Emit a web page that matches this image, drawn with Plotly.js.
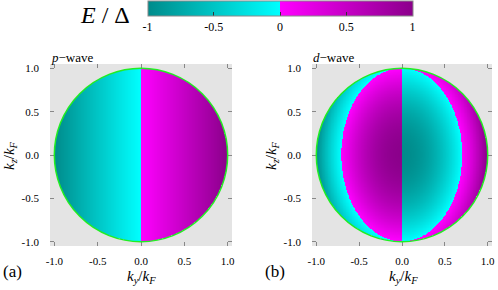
<!DOCTYPE html>
<html><head><meta charset="utf-8">
<script src="https://cdn.plot.ly/plotly-3.0.1.min.js"></script>
<style>html,body{margin:0;padding:0;background:#fff}#c{width:498px;height:290px}</style>
</head><body><div id="c"></div>
<script>
// --- data ---
const kF = 1.0;                       // Fermi-sphere radius (units of kF)
const nGrid = 421;
const kRange = [-1.05, 1.05];
const tickVals = [-1, -0.5, 0, 0.5, 1];
const axisTickText = ['-1.0', '-0.5', '0.0', '0.5', '1.0'];
const cbTickText = ['-1', '-0.5', '0', '0.5', '1'];
const panelNames = ['<i>p</i>\u2212wave', '<i>d</i>\u2212wave'];
const panelTags = ['(a)', '(b)'];
// gap models: p-wave E/Δ = ky ; d-wave E/Δ = -sgn(ky)(kx²-ky²), kx²=1-ky²-kz²
const kyGrid = [], kzGrid = [];
for (let i = 0; i < nGrid; i++) {
  const v = kRange[0] + (kRange[1] - kRange[0]) * i / (nGrid - 1);
  kyGrid.push(v); kzGrid.push(v);
}
function pWave(ky, kz) { return ky; }
function dWave(ky, kz) { const kx2 = 1 - ky*ky - kz*kz; return -Math.sign(ky) * (kx2 - ky*ky); }
function field(f) {
  return kzGrid.map(kz => kyGrid.map(ky => (ky*ky + kz*kz <= kF*kF) ? f(ky, kz) : null));
}
const zP = field(pWave);
const zD = field(dWave);

// --- styling ---
const W = 498, H = 290;
const serif = 'Liberation Serif';
const cscale = [[0, '#008b8b'], [0.5, '#00ffff'], [0.5, '#ff00ff'], [1, '#8b008b']];
const px = v => v / W, py = v => 1 - v / H;

const traces = [
  {type: 'heatmap', x: kyGrid, y: kzGrid, z: zP, xaxis: 'x', yaxis: 'y',
   colorscale: cscale, zmin: -1.0005, zmax: 1.0005, zsmooth: false, hoverinfo: 'skip',
   showscale: true,
   colorbar: {orientation: 'h', x: px(280), xanchor: 'center', y: py(1), yanchor: 'top',
     len: 265, lenmode: 'pixels', thickness: 15, thicknessmode: 'pixels',
     xpad: 0, ypad: 0, outlinewidth: 1, outlinecolor: '#888',
     tickvals: tickVals, ticktext: cbTickText, ticks: 'inside', ticklen: 4, tickcolor: '#333',
     ticklabeloverflow: 'allow',
     tickfont: {family: serif, size: 12, color: '#000'}}},
  {type: 'heatmap', x: kyGrid, y: kzGrid, z: zD, xaxis: 'x2', yaxis: 'y2',
   colorscale: cscale, zmin: -1.0005, zmax: 1.0005, zsmooth: false, hoverinfo: 'skip', showscale: false}
];

function ax(domain, anchor, isX) {
  return {domain: domain, anchor: anchor, range: kRange, tickvals: tickVals, ticktext: axisTickText,
    ticks: 'inside', ticklen: 4, tickcolor: '#888', tickwidth: 1, mirror: 'ticks',
    ticklabelstandoff: isX ? 7 : 10,
    showgrid: false, zeroline: false, showline: false,
    tickfont: {family: serif, size: 11, color: '#000'}, fixedrange: true};
}
const yDom = [1 - 246 / H, 1 - 64 / H];
const layout = {
  width: W, height: H, margin: {l: 0, r: 0, t: 0, b: 0},
  font: {family: serif, color: '#000'},
  paper_bgcolor: '#fff', plot_bgcolor: '#e4e4e4', showlegend: false,
  xaxis: ax([px(50), px(232)], 'y', true),
  yaxis: ax(yDom, 'x', false),
  xaxis2: ax([px(312), px(492)], 'y2', true),
  yaxis2: ax(yDom, 'x2', false),
  shapes: [
    {type: 'circle', xref: 'x', yref: 'y', x0: -kF, x1: kF, y0: -kF, y1: kF, line: {color: '#22ee22', width: 1.5}},
    {type: 'circle', xref: 'x2', yref: 'y2', x0: -kF, x1: kF, y0: -kF, y1: kF, line: {color: '#22ee22', width: 1.5}}
  ],
  annotations: []
};
const A = layout.annotations;
const f = (s) => ({family: serif, size: s, color: '#000'});
function note(text, x, y, size, xa, extra) {
  return Object.assign({text: text, x: px(x), y: py(y), xref: 'paper', yref: 'paper',
    xanchor: xa || 'center', yanchor: 'middle', showarrow: false, font: f(size)}, extra || {});
}
A.push(note('<i>E</i> / \u0394', 105, 15, 24));
[[50, 141], [312, 403]].forEach((p, i) => {
  A.push(note(panelNames[i], p[0] - 1, 57, 13, 'left'));
  A.push(note(panelTags[i], p[0] - 49, 271, 17, 'left'));
  A.push(note('<i>k</i><sub><i>y</i></sub>/<i>k</i><sub><i>F</i></sub>', p[1], 277, 15));
  A.push(note('<i>k</i><sub><i>z</i></sub>/<i>k</i><sub><i>F</i></sub>', p[0] - 40, 156, 15, 'center', {textangle: -90}));
});
Plotly.newPlot('c', traces, layout, {staticPlot: true, displayModeBar: false});
</script></body></html>
